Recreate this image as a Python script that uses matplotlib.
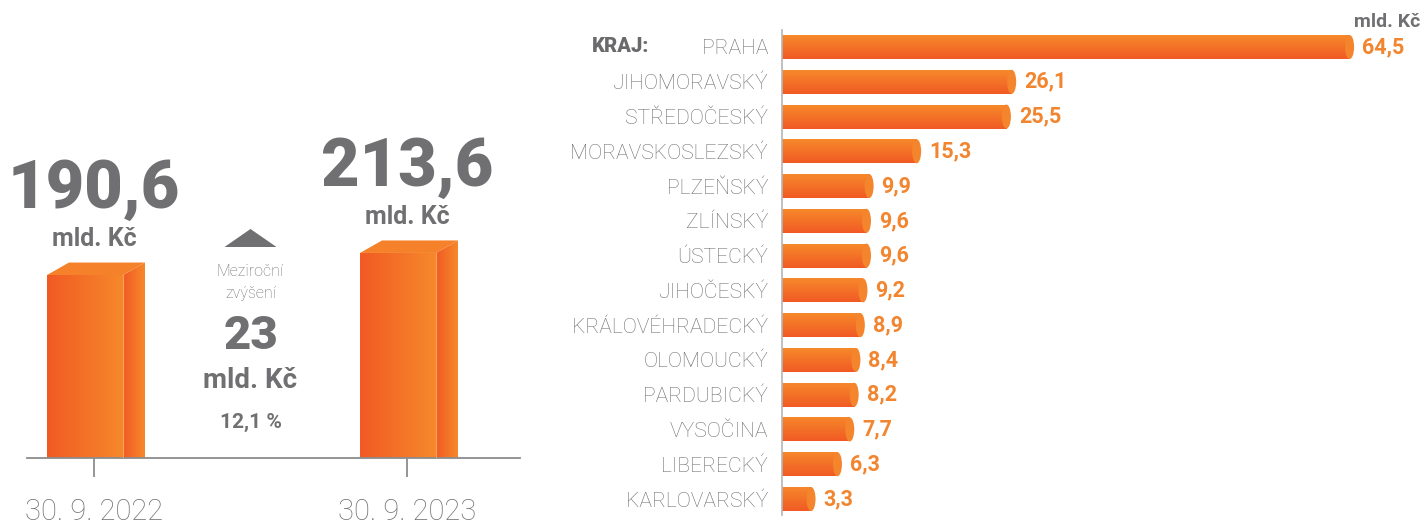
import numpy as np
import matplotlib
matplotlib.use('Agg')
import matplotlib.pyplot as plt
from matplotlib.patches import Polygon, Ellipse
from matplotlib.colors import LinearSegmentedColormap

# ---------------- data ----------------
dates = ['30. 9. 2022', '30. 9. 2023']
totals = [190.6, 213.6]
increase = 23
increase_pct = 12.1

regions = ['PRAHA', 'JIHOMORAVSKÝ', 'STŘEDOČESKÝ', 'MORAVSKOSLEZSKÝ', 'PLZEŇSKÝ',
           'ZLÍNSKÝ', 'ÚSTECKÝ', 'JIHOČESKÝ', 'KRÁLOVÉHRADECKÝ', 'OLOMOUCKÝ',
           'PARDUBICKÝ', 'VYSOČINA', 'LIBERECKÝ', 'KARLOVARSKÝ']
region_values = [64.5, 26.1, 25.5, 15.3, 9.9, 9.6, 9.6, 9.2, 8.9, 8.4, 8.2, 7.7, 6.3, 3.3]

unit = 'mld. Kč'

# ---------------- style ----------------
plt.rcParams['font.family'] = ['Roboto', 'DejaVu Sans']
GRAY = '#707073'
AXGRAY = '#8c8c8c'
LABEL_OR = '#F2852F'
DARK = '#F15A24'
LIGHT = '#F6892B'
grad_cmap = LinearSegmentedColormap.from_list('g', [DARK, LIGHT])


def cz(v):
    return f"{v:.1f}".replace('.', ',')


W, H = 1421, 526
fig = plt.figure(figsize=(W / 100, H / 100), dpi=100)

# ================= left panel =================
S = 0.96  # px per unit in y
ax1 = fig.add_axes([27 / W, (H - 458) / H, (520 - 27) / W, 458 / H])
XPX = 313.0  # px per category step
ax1.set_xlim((27 - 94) / XPX, (520 - 94) / XPX)
ax1.set_ylim(0, 458 / S)
for s in ['top', 'right', 'left']:
    ax1.spines[s].set_visible(False)
ax1.spines['bottom'].set_color(AXGRAY)
ax1.spines['bottom'].set_linewidth(1.3)
ax1.set_yticks([])
xs = np.arange(len(totals))
ax1.set_xticks(xs)
ax1.set_xticklabels(dates, fontsize=21, color=GRAY, fontweight='light')
ax1.tick_params(axis='x', length=14, width=1.3, color=AXGRAY, pad=15)

fw = 76 / XPX   # front width
dw = 22 / XPX   # side depth
dy = 12.5 / S   # top offset
grad_h = np.linspace(0, 1, 256).reshape(1, -1)

bars = ax1.bar(xs - 47 / XPX, totals, width=fw, align='edge', color='none', edgecolor='none')
for x, v, b in zip(xs, totals, bars):
    x0 = x - 47 / XPX
    im = ax1.imshow(grad_h, cmap=grad_cmap, extent=(x0, x0 + fw, 0, v), aspect='auto', zorder=2)
    im.set_clip_path(b)
    side = Polygon([(x0 + fw, 0), (x0 + fw, v), (x0 + fw + dw, v + dy), (x0 + fw + dw, 0)],
                   closed=True, facecolor='none', edgecolor='none')
    ax1.add_patch(side)
    im2 = ax1.imshow(grad_h, cmap=grad_cmap, extent=(x0 + fw, x0 + fw + dw, 0, v + dy),
                     aspect='auto', zorder=2)
    im2.set_clip_path(side)
    top = Polygon([(x0, v), (x0 + fw, v), (x0 + fw + dw, v + dy), (x0 + dw, v + dy)],
                  closed=True, facecolor='#F5822A', edgecolor='none', zorder=3)
    ax1.add_patch(top)
    ax1.plot([x0 + fw, x0 + fw], [0, v], color='#F8A060', lw=0.8, zorder=3)
    ax1.annotate(cz(v), (x, v), xytext=(0, 61), textcoords='offset points',
                 ha='center', va='center', fontsize=48, fontweight='black', color=GRAY)
    ax1.annotate(unit, (x, v), xytext=(0, 26), textcoords='offset points',
                 ha='center', va='center', fontsize=18, fontweight='bold', color=GRAY)
ax1.set_xlim((27 - 94) / XPX, (520 - 94) / XPX)
ax1.set_ylim(0, 458 / S)


def py(p):
    return (458 - p) / S


mid = 0.5
tri = Polygon([(mid - 26 / XPX, py(247)), (mid + 26 / XPX, py(247)), (mid, py(229))],
              closed=True, facecolor=GRAY, edgecolor='none')
ax1.add_patch(tri)
ax1.text(mid, py(271), 'Meziroční', ha='center', va='center', fontsize=11.5, color=GRAY,
         fontweight='light')
ax1.text(mid, py(293), 'zvýšení', ha='center', va='center', fontsize=11.5, color=GRAY,
         fontweight='light')
ax1.text(mid, py(336), f'{increase}', ha='center', va='center', fontsize=34,
         fontweight='black', color=GRAY)
ax1.text(mid, py(380), unit, ha='center', va='center', fontsize=20, fontweight='bold',
         color=GRAY)
ax1.text(mid, py(422), f'{cz(increase_pct)} %', ha='center', va='center', fontsize=15,
         fontweight='bold', color=GRAY)

# ================= right panel =================
XS = 8.8
ax2 = fig.add_axes([782 / W, (H - 515) / H, (W - 782) / W, (515 - 30) / H])
n = len(regions)
step = (499 - 47) / (n - 1)
ax2.set_xlim(0, (W - 782) / XS)
ax2.set_ylim(n - 1 + (515 - 499) / step, -(47 - 30) / step)
for s in ['top', 'right', 'bottom']:
    ax2.spines[s].set_visible(False)
ax2.spines['left'].set_color('#b5b5b5')
ax2.spines['left'].set_linewidth(1.2)
ax2.set_xticks([])
ys = np.arange(n)
ax2.set_yticks(ys)
ax2.set_yticklabels(regions, fontsize=15.2, color=GRAY, fontweight='light')
ax2.tick_params(axis='y', length=0, pad=10)

bh = 24 / step
grad_v = np.linspace(1, 0, 256).reshape(-1, 1)
hb = ax2.barh(ys, region_values, height=bh, color='none', edgecolor='none')
cap_w = 9 / XS
for y, v, b in zip(ys, region_values, hb):
    im = ax2.imshow(grad_v, cmap=grad_cmap, extent=(0, v, y + bh / 2, y - bh / 2),
                    aspect='auto', zorder=2)
    im.set_clip_path(b)
    ax2.add_patch(Ellipse((v, y), cap_w, bh, facecolor='#F5852C', edgecolor='none', zorder=3))
    ax2.annotate(cz(v), (v, y), xytext=(9, 0), textcoords='offset points', ha='left',
                 va='center', fontsize=15.5, fontweight='bold', color=LABEL_OR)
ax2.set_xlim(0, (W - 782) / XS)
ax2.set_ylim(n - 1 + (515 - 499) / step, -(47 - 30) / step)

fig.text(592 / W, 1 - 47 / H, 'KRAJ:', ha='left', va='center', fontsize=14.5,
         fontweight='black', color='#6a6a6d')
fig.text(1420 / W, 1 - 22 / H, unit, ha='right', va='center', fontsize=14,
         fontweight='bold', color=GRAY)

fig.savefig('out.png', dpi=100)
